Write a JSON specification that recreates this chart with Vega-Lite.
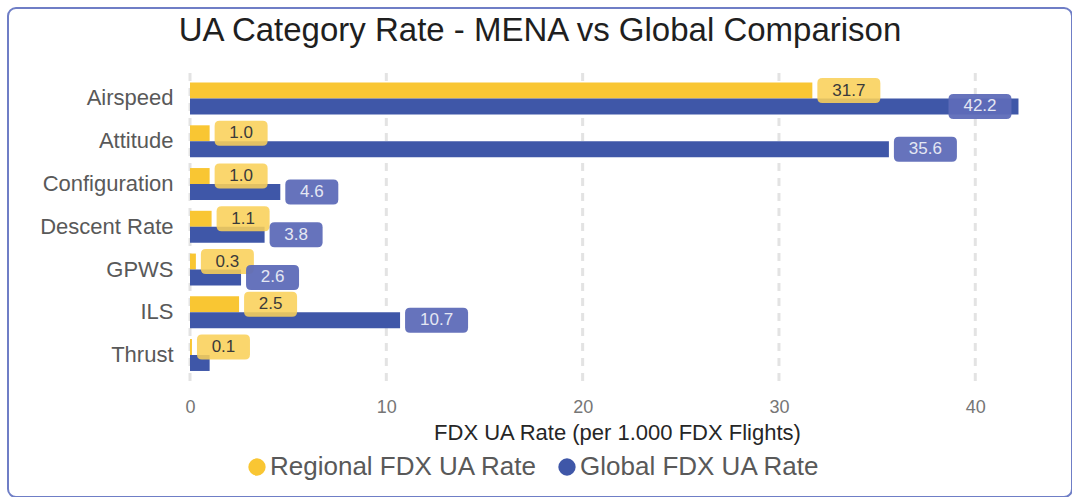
{
  "$schema": "https://vega.github.io/schema/vega-lite/v6.json",
  "width": 1064,
  "height": 489,
  "padding": {"left": 8, "top": 8, "right": 0, "bottom": 0},
  "autosize": {"type": "pad"},
  "background": "white",
  "config": {
    "font": "Liberation Sans",
    "view": {"stroke": "#6F7EC6", "strokeWidth": 2, "cornerRadius": 8, "fill": "white"}
  },
  "title": {
    "text": "UA Category Rate - MENA vs Global Comparison",
    "fontSize": 33,
    "fontWeight": "normal",
    "color": "#1F1F1F",
    "offset": -40,
    "anchor": "middle"
  },
  "resolve": {"scale": {"y": "independent"}, "axis": {"y": "independent"}},
  "layer": [
    {
      "data": {"values": [{"tick": 0}, {"tick": 10}, {"tick": 20}, {"tick": 30}, {"tick": 40}]},
      "mark": {"type": "rule", "color": "#E3E3E3", "strokeWidth": 3, "strokeDash": [8, 7]},
      "encoding": {
        "x": {
          "field": "tick",
          "type": "quantitative",
          "scale": {"domain": [0, 43.5], "range": [182, 1036], "nice": false, "zero": true},
          "axis": {
            "title": "FDX UA Rate (per 1.000 FDX Flights)",
            "values": [0, 10, 20, 30, 40],
            "offset": -109,
            "domain": false,
            "ticks": false,
            "tickSize": 0,
            "labelFlush": false,
            "labelPadding": 10,
            "labelFontSize": 18,
            "labelColor": "#767676",
            "titleFontSize": 22,
            "titleColor": "#262626",
            "titleFontWeight": "normal",
            "titlePadding": 6,
            "grid": false
          }
        },
        "y": {"datum": 0, "type": "quantitative", "scale": {"domain": [0, 1], "range": [65, 380], "nice": false, "zero": false}, "axis": null},
        "y2": {"datum": 1}
      }
    },
    {
      "data": {
        "values": [
          {"category": "Airspeed", "series": "Regional FDX UA Rate", "value": 31.7},
          {"category": "Attitude", "series": "Regional FDX UA Rate", "value": 1.0},
          {"category": "Configuration", "series": "Regional FDX UA Rate", "value": 1.0},
          {"category": "Descent Rate", "series": "Regional FDX UA Rate", "value": 1.1},
          {"category": "GPWS", "series": "Regional FDX UA Rate", "value": 0.3},
          {"category": "ILS", "series": "Regional FDX UA Rate", "value": 2.5},
          {"category": "Thrust", "series": "Regional FDX UA Rate", "value": 0.1},
          {"category": "Airspeed", "series": "Global FDX UA Rate", "value": 42.2},
          {"category": "Attitude", "series": "Global FDX UA Rate", "value": 35.6},
          {"category": "Configuration", "series": "Global FDX UA Rate", "value": 4.6},
          {"category": "Descent Rate", "series": "Global FDX UA Rate", "value": 3.8},
          {"category": "GPWS", "series": "Global FDX UA Rate", "value": 2.6},
          {"category": "ILS", "series": "Global FDX UA Rate", "value": 10.7},
          {"category": "Thrust", "series": "Global FDX UA Rate", "value": 1.0}
        ]
      },
      "encoding": {
        "y": {
          "field": "category",
          "type": "nominal",
          "sort": ["Airspeed", "Attitude", "Configuration", "Descent Rate", "GPWS", "ILS", "Thrust"],
          "scale": {"range": [65, 380], "paddingInner": 0, "paddingOuter": 0.184, "align": 0.262},
          "axis": {
            "title": null,
            "offset": -182,
            "domain": false,
            "ticks": false,
            "tickSize": 0,
            "labelPadding": 17,
            "labelFontSize": 22,
            "labelColor": "#595959",
            "grid": false
          }
        },
        "yOffset": {
          "field": "series",
          "type": "nominal",
          "sort": ["Regional FDX UA Rate", "Global FDX UA Rate"],
          "scale": {"paddingInner": 0, "paddingOuter": 0.34}
        },
        "x": {
          "field": "value",
          "type": "quantitative",
          "scale": {"domain": [0, 43.5], "range": [182, 1036], "nice": false, "zero": true},
          "axis": {
            "title": "FDX UA Rate (per 1.000 FDX Flights)",
            "values": [0, 10, 20, 30, 40],
            "offset": -109,
            "domain": false,
            "ticks": false,
            "tickSize": 0,
            "labelFlush": false,
            "labelPadding": 10,
            "labelFontSize": 18,
            "labelColor": "#767676",
            "titleFontSize": 22,
            "titleColor": "#262626",
            "titleFontWeight": "normal",
            "titlePadding": 6,
            "grid": false
          }
        }
      },
      "layer": [
        {
          "mark": {"type": "bar"},
          "encoding": {
            "color": {
              "field": "series",
              "type": "nominal",
              "sort": ["Regional FDX UA Rate", "Global FDX UA Rate"],
              "scale": {"domain": ["Regional FDX UA Rate", "Global FDX UA Rate"], "range": ["#F9C633", "#3F57A8"]},
              "legend": {
                "title": null,
                "orient": "none",
                "legendX": 236,
                "legendY": 446,
                "direction": "horizontal",
                "symbolType": "circle",
                "symbolSize": 300,
                "symbolStrokeWidth": 0,
                "labelFontSize": 26,
                "labelLimit": 0,
                "labelColor": "#595959",
                "labelOffset": 0,
                "columnPadding": 16,
                "padding": 0
              }
            }
          }
        },
        {
          "transform": [{"filter": "datum.value < 10 && !(datum.category === 'Thrust' && datum.series === 'Global FDX UA Rate')"}],
          "mark": {"type": "point", "shape": "M10,-12.5 H53 Q58,-12.5 58,-7.5 V7.5 Q58,12.5 53,12.5 H10 Q5,12.5 5,7.5 V-7.5 Q5,-12.5 10,-12.5 Z", "size": 4, "filled": true, "strokeWidth": 0},
          "encoding": {
            "color": {"condition": {"test": "datum.series === 'Global FDX UA Rate'", "value": "#5E6CB8"}, "value": "#F9D059"},
            "opacity": {"condition": {"test": "datum.series === 'Global FDX UA Rate'", "value": 0.95}, "value": 0.88}
          }
        },
        {
          "transform": [{"filter": "datum.value >= 10 && datum.value < 40"}],
          "mark": {"type": "point", "shape": "M10,-12.5 H63 Q68,-12.5 68,-7.5 V7.5 Q68,12.5 63,12.5 H10 Q5,12.5 5,7.5 V-7.5 Q5,-12.5 10,-12.5 Z", "size": 4, "filled": true, "strokeWidth": 0},
          "encoding": {
            "color": {"condition": {"test": "datum.series === 'Global FDX UA Rate'", "value": "#5E6CB8"}, "value": "#F9D059"},
            "opacity": {"condition": {"test": "datum.series === 'Global FDX UA Rate'", "value": 0.95}, "value": 0.88}
          }
        },
        {
          "transform": [{"filter": "datum.value >= 40"}],
          "mark": {"type": "point", "shape": "M-65,-12.5 H-12 Q-7,-12.5 -7,-7.5 V7.5 Q-7,12.5 -12,12.5 H-65 Q-70,12.5 -70,7.5 V-7.5 Q-70,-12.5 -65,-12.5 Z", "size": 4, "filled": true, "strokeWidth": 0},
          "encoding": {
            "color": {"condition": {"test": "datum.series === 'Global FDX UA Rate'", "value": "#5E6CB8"}, "value": "#F9D059"},
            "opacity": {"condition": {"test": "datum.series === 'Global FDX UA Rate'", "value": 0.95}, "value": 0.88}
          }
        },
        {
          "transform": [{"filter": "datum.value < 10 && !(datum.category === 'Thrust' && datum.series === 'Global FDX UA Rate')"}],
          "mark": {"type": "text", "dx": 31.5, "fontSize": 17, "align": "center", "baseline": "middle"},
          "encoding": {
            "text": {"field": "value", "type": "quantitative", "format": ".1f"},
            "color": {"condition": {"test": "datum.series === 'Global FDX UA Rate'", "value": "#E4E7F3"}, "value": "#3A3A3A"}
          }
        },
        {
          "transform": [{"filter": "datum.value >= 10 && datum.value < 40"}],
          "mark": {"type": "text", "dx": 36.5, "fontSize": 17, "align": "center", "baseline": "middle"},
          "encoding": {
            "text": {"field": "value", "type": "quantitative", "format": ".1f"},
            "color": {"condition": {"test": "datum.series === 'Global FDX UA Rate'", "value": "#E4E7F3"}, "value": "#3A3A3A"}
          }
        },
        {
          "transform": [{"filter": "datum.value >= 40"}],
          "mark": {"type": "text", "dx": -38.5, "fontSize": 17, "align": "center", "baseline": "middle"},
          "encoding": {
            "text": {"field": "value", "type": "quantitative", "format": ".1f"},
            "color": {"condition": {"test": "datum.series === 'Global FDX UA Rate'", "value": "#E4E7F3"}, "value": "#3A3A3A"}
          }
        }
      ]
    }
  ]
}
